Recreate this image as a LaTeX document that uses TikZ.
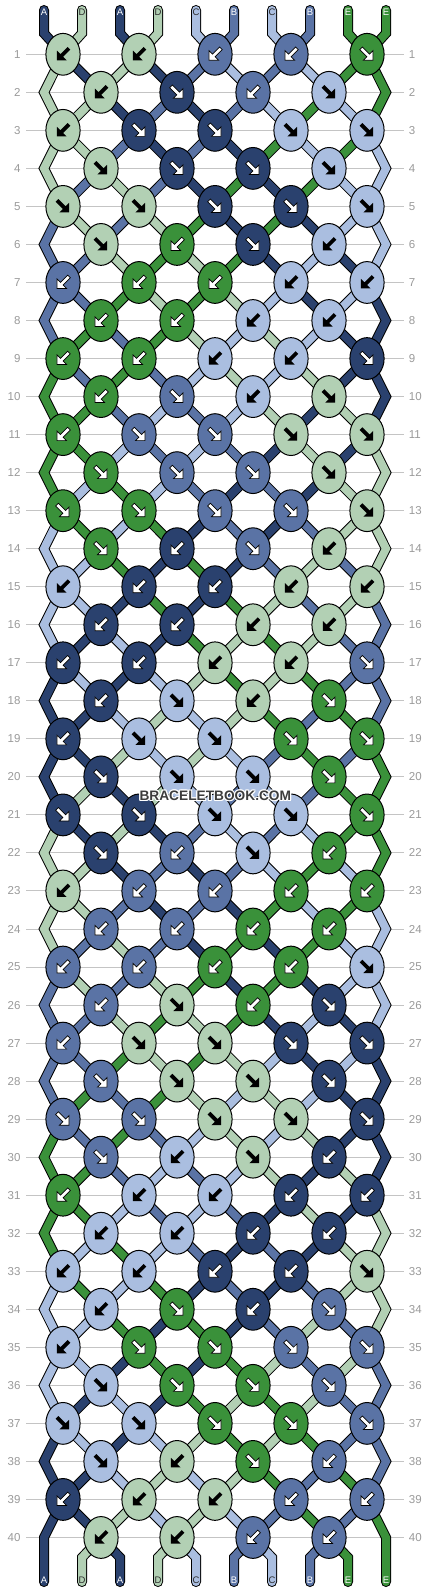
\documentclass[tikz,border=0pt]{standalone}
\usepackage{fontspec}
\setmainfont{Liberation Sans}
\usetikzlibrary{shapes.geometric}
\definecolor{cA}{HTML}{2A416E}
\definecolor{cD}{HTML}{B2D0B4}
\definecolor{cC}{HTML}{AABEE0}
\definecolor{cB}{HTML}{5A73A5}
\definecolor{cE}{HTML}{3A913A}
\definecolor{labA}{HTML}{FFFFFF}
\definecolor{labB}{HTML}{FFFFFF}
\definecolor{labE}{HTML}{FFFFFF}
\definecolor{labC}{HTML}{2B2B2B}
\definecolor{labD}{HTML}{2B2B2B}
\definecolor{gridgray}{HTML}{C4C4C4}
\definecolor{labgray}{HTML}{9A9A9A}
\definecolor{wmark}{HTML}{3C3C3C}
\tikzset{
  strandout/.style={line width=10pt, draw=black, line cap=round, line join=miter},
  strandin/.style={line width=8pt, line cap=round, line join=miter},
  knot/.style={ellipse, draw=black, line width=1pt, minimum width=34.2pt, minimum height=41.8pt, inner sep=0pt},
  rowline/.style={draw=gridgray, line width=1pt},
  rowlab/.style={text=labgray, font=\fontsize{11.5}{12}\selectfont, inner sep=0pt},
  strlab/.style={font=\fontsize{9.5}{10}\selectfont, inner sep=0pt},
  wm/.style={font=\bfseries\fontsize{13.7}{14}\selectfont, inner sep=0pt},
  arr-A/.style={fill=white, draw=black, line width=0.7pt},
  arr-B/.style={fill=white, draw=black, line width=0.7pt},
  arr-E/.style={fill=white, draw=black, line width=0.7pt},
  arr-C/.style={fill=black},
  arr-D/.style={fill=black},
  dir-f/.style={rotate=-45},
  dir-b/.style={rotate=-135},
}
\def\knotrows{{D/b,D/b,B/b,B/b,E/f},{D/b,A/f,B/b,C/f},{D/b,A/f,A/f,C/f,C/f},{D/f,A/f,A/f,C/f},%
{D/f,D/f,A/f,A/f,C/f},{D/f,E/b,A/f,C/b},{B/b,E/b,E/b,C/b,C/b},{E/b,E/b,C/b,C/b},%
{E/b,E/b,C/b,C/b,A/f},{E/b,B/f,C/b,D/f},{E/b,B/f,B/f,D/f,D/f},{E/f,B/f,B/f,D/f},%
{E/f,E/f,B/f,B/f,D/f},{E/f,A/b,B/f,D/b},{C/b,A/b,A/b,D/b,D/b},{A/b,A/b,D/b,D/b},%
{A/b,A/b,D/b,D/b,B/f},{A/b,C/f,D/b,E/f},{A/b,C/f,C/f,E/f,E/f},{A/f,C/f,C/f,E/f},%
{A/f,A/f,C/f,C/f,E/f},{A/f,B/b,C/f,E/b},{D/b,B/b,B/b,E/b,E/b},{B/b,B/b,E/b,E/b},%
{B/b,B/b,E/b,E/b,C/f},{B/b,D/f,E/b,A/f},{B/b,D/f,D/f,A/f,A/f},{B/f,D/f,D/f,A/f},%
{B/f,B/f,D/f,D/f,A/f},{B/f,C/b,D/f,A/b},{E/b,C/b,C/b,A/b,A/b},{C/b,C/b,A/b,A/b},%
{C/b,C/b,A/b,A/b,D/f},{C/b,E/f,A/b,B/f},{C/b,E/f,E/f,B/f,B/f},{C/f,E/f,E/f,B/f},%
{C/f,C/f,E/f,E/f,B/f},{C/f,D/b,E/f,B/b},{A/b,D/b,D/b,B/b,B/b},{D/b,D/b,B/b,B/b}}
\begin{document}
\begin{tikzpicture}[x=1pt,y=-1pt]
\useasboundingbox (0,0) rectangle (430,1592);
\fill[white] (0,0) rectangle (430,1592);
% coordinates
\foreach \r in {1,...,40}{
  \pgfmathsetmacro\yy{54.3+38.03*(\r-1)}
  \foreach \cc in {1,...,9}{\coordinate (K-\r-\cc) at ({25+38*\cc},\yy);}
  \coordinate (E-\r-1) at (44,\yy);
  \coordinate (E-\r-10) at (386,\yy);
  \coordinate (GL-\r) at (26,\yy);
  \coordinate (GR-\r) at (404,\yy);
}
\foreach \tk in {1,...,10}{
  \pgfmathsetmacro\xx{44+38*(\tk-1)}
  \coordinate (T-\tk) at (\xx,10);
  \coordinate (TB-\tk) at (\xx,33.3);
  \coordinate (BB-\tk) at (\xx,1557.5);
  \coordinate (BE-\tk) at (\xx,1582);
  \coordinate (TL-\tk) at (\xx,12.7);
  \coordinate (BL-\tk) at (\xx,1580.5);
}
% row lines and numbers
\foreach \r in {1,...,40}{
  \draw[rowline] (GL-\r) -- (GR-\r);
  \node[rowlab, anchor=east] (LL-\r) at ([xshift=-5.3pt]GL-\r) {\r};
  \node[rowlab, anchor=west] (LR-\r) at ([xshift=4.7pt]GR-\r) {\r};
}
% threads
\foreach \tk/\thc in {1/A,2/D,3/A,4/D,5/C,6/B,7/C,8/B,9/E,10/E}{
  \xdef\pth{(T-\tk) -- (TB-\tk)}
  \xdef\curpos{\tk}
  \foreach \r in {1,...,40}{
    \pgfmathtruncatemacro\newq{ifthenelse(isodd(\r), ifthenelse(isodd(\curpos),\curpos+1,\curpos-1), ifthenelse(or(\curpos==1,\curpos==10),\curpos, ifthenelse(isodd(\curpos),\curpos-1,\curpos+1)))}
    \ifnum\newq=\curpos
      \xdef\pth{\pth -- (E-\r-\curpos)}
    \else
      \pgfmathtruncatemacro\cc{min(\newq,\curpos)}
      \xdef\pth{\pth -- (K-\r-\cc)}
    \fi
    \xdef\curpos{\newq}
  }
  \xdef\pth{\pth -- (BB-\curpos) -- (BE-\curpos)}
  \edef\tmpdraw{\noexpand\draw[strandout] \pth; \noexpand\draw[strandin, draw=c\thc] \pth;}
  \tmpdraw
}
% knots
\foreach \lst [count=\r] in \knotrows {
  \foreach \cl/\dr [count=\j] in \lst {
    \pgfmathtruncatemacro\cc{ifthenelse(isodd(\r),2*\j-1,2*\j)}
    \node[knot, fill=c\cl] (N-\r-\cc) at (K-\r-\cc) {};
    \path[arr-\cl, shift={(N-\r-\cc.center)}, dir-\dr] (-8.5,-1.9) -- (1.7,-1.9) -- (1.7,-6.8) -- (8.5,0) -- (1.7,6.8) -- (1.7,1.9) -- (-8.5,1.9) -- cycle;
  }
}
% string letters
\foreach \tk/\thc in {1/A,2/D,3/A,4/D,5/C,6/B,7/C,8/B,9/E,10/E}{
  \node[strlab, text=lab\thc] (TLab-\tk) at (TL-\tk) {\thc};
  \node[strlab, text=lab\thc] (BLab-\tk) at (BL-\tk) {\thc};
}
% watermark
\foreach \dx/\dy in {1.2/0,-1.2/0,0/1.2,0/-1.2,0.9/0.9,-0.9/0.9,0.9/-0.9,-0.9/-0.9}{
  \node[wm, text=white] at (215.3+\dx,796+\dy) {BRACELETBOOK.COM};
}
\node[wm, text=wmark] (WM) at (215.3,796) {BRACELETBOOK.COM};
\end{tikzpicture}
\end{document}
